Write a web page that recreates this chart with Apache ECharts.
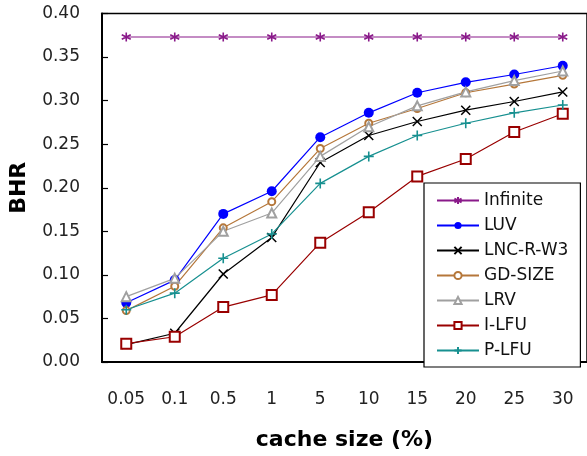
<!DOCTYPE html>
<html><head><meta charset="utf-8">
<script src="https://cdn.jsdelivr.net/npm/echarts@6/dist/echarts.min.js"></script>
<style>html,body{margin:0;padding:0;background:#fff}#c{width:587px;height:456px}</style>
</head><body><div id="c"></div>
<script>
var categories = ['0.05','0.1','0.5','1','5','10','15','20','25','30'];
var infinite = [0.373,0.373,0.373,0.373,0.373,0.373,0.373,0.373,0.373,0.373];
var luv      = [0.068,0.094,0.170,0.196,0.258,0.286,0.309,0.321,0.330,0.340];
var lnc      = [0.020,0.033,0.101,0.143,0.229,0.260,0.276,0.289,0.299,0.310];
var gdsize   = [0.059,0.087,0.154,0.184,0.245,0.274,0.291,0.309,0.319,0.329];
var lrv      = [0.075,0.096,0.150,0.171,0.236,0.270,0.294,0.310,0.323,0.334];
var ilfu     = [0.021,0.029,0.063,0.077,0.137,0.172,0.213,0.233,0.264,0.285];
var plfu     = [0.060,0.079,0.119,0.147,0.205,0.236,0.260,0.274,0.286,0.295];
var yTicks = [0,0.05,0.1,0.15,0.2,0.25,0.3,0.35,0.4];

var FONT = 'DejaVu Sans';
function ser(name, data, color, symbol, size, bw) {
  return {
    name: name, type: 'line', data: data, symbol: symbol, symbolSize: size,
    showAllSymbol: true,
    lineStyle: {color: color, width: 1.2},
    itemStyle: {color: color, borderColor: color, borderWidth: bw},
    animation: false
  };
}
var star = 'path://M5,0L5,10M0.7,2.5L9.3,7.5M0.7,7.5L9.3,2.5';
var cross = 'path://M0,0L10,10M10,0L0,10';
var plus = 'path://M5,0L5,10M0,5L10,5';
var chart = echarts.init(document.getElementById('c'));
chart.setOption({
  animation: false,
  grid: {left: 102, top: 13.5, width: 490, bottom: 90, show: true, borderColor: '#000', borderWidth: 1.5, backgroundColor: 'transparent'},
  xAxis: {
    type: 'category', data: categories, boundaryGap: true,
    axisLine: {lineStyle: {color: '#000', width: 2}},
    axisTick: {inside: true, length: 6, interval: 0, lineStyle: {color: '#000', width: 1.2}},
    axisLabel: {color: '#222', fontFamily: FONT, fontSize: 17, margin: 29, interval: 0},
    name: 'cache size (%)', nameLocation: 'middle', nameGap: 67,
    nameTextStyle: {color: '#000', fontFamily: FONT, fontSize: 22, fontWeight: 'bold'}
  },
  yAxis: {
    type: 'value', min: 0, max: 0.4, interval: 0.05,
    axisLine: {show: true, lineStyle: {color: '#000', width: 2}},
    axisTick: {show: true, inside: true, length: 6, lineStyle: {color: '#000', width: 1.2}},
    splitLine: {show: false},
    axisLabel: {color: '#222', fontFamily: FONT, fontSize: 17, margin: 22,
      formatter: function (v) { return v.toFixed(2); }},
    name: 'BHR', nameLocation: 'middle', nameGap: 72,
    nameTextStyle: {color: '#000', fontFamily: FONT, fontSize: 22, fontWeight: 'bold'}
  },
  legend: {
    orient: 'vertical', left: 424, top: 183,
    padding: [9, 12, 8, 12], itemGap: 8, itemWidth: 42, itemHeight: 9,
    backgroundColor: '#fff', borderColor: '#000', borderWidth: 1.2,
    textStyle: {color: '#111', fontFamily: FONT, fontSize: 17},
    data: ['Infinite','LUV','LNC-R-W3','GD-SIZE','LRV','I-LFU','P-LFU']
  },
  series: [
    ser('Infinite', infinite, '#8a1a8a', star, 9, 1.6),
    ser('LUV', luv, '#0000ff', 'circle', 10, 0),
    ser('LNC-R-W3', lnc, '#000000', cross, 9, 1.5),
    ser('GD-SIZE', gdsize, '#b5773a', 'emptyCircle', 7, 1.5),
    ser('LRV', lrv, '#a0a0a0', 'emptyTriangle', 9, 1.5),
    ser('I-LFU', ilfu, '#990000', 'emptyRect', 10, 1.5),
    ser('P-LFU', plfu, '#179090', plus, 10, 1.6)
  ]
});
</script></body></html>
